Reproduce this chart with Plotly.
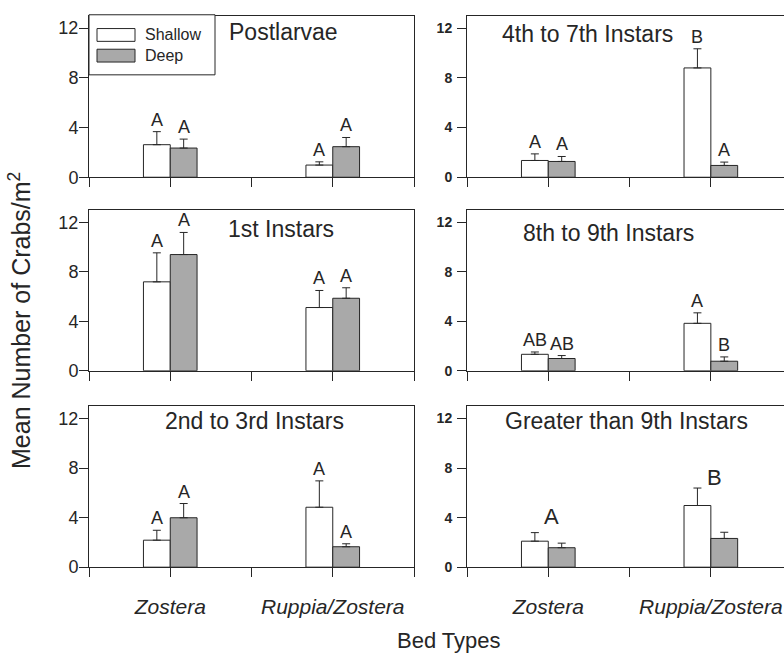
import plotly.graph_objects as go

# ---- data -------------------------------------------------------------
stages = ["Postlarvae", "1st Instars", "2nd to 3rd Instars",
          "4th to 7th Instars", "8th to 9th Instars", "Greater than 9th Instars"]
beds = ["Zostera", "Ruppia/Zostera"]

shallow_mean = [[2.62, 0.98], [7.20, 5.12], [2.18, 4.84],
                [1.35, 8.80], [1.33, 3.84], [2.10, 4.98]]
shallow_se = [[1.05, 0.26], [2.35, 1.38], [0.80, 2.13],
              [0.53, 1.54], [0.19, 0.85], [0.69, 1.41]]
deep_mean = [[2.35, 2.46], [9.41, 5.87], [3.99, 1.65],
             [1.27, 0.95], [0.99, 0.77], [1.57, 2.32]]
deep_se = [[0.72, 0.74], [1.79, 0.85], [1.15, 0.24],
           [0.40, 0.27], [0.24, 0.35], [0.37, 0.50]]

shallow_letters = [["A", "A"], ["A", "A"], ["A", "A"],
                   ["A", "B"], ["AB", "A"], ["", ""]]
deep_letters = [["A", "A"], ["A", "A"], ["A", "A"],
                ["A", "A"], ["AB", "B"], ["", ""]]
group_letters = [None, None, None, None, None, ["A", "B"]]

y_ticks = [0, 4, 8, 12]

# ---- layout helpers ---------------------------------------------------
W, H = 784, 653
FONT = "Liberation Sans, Arial, sans-serif"
INK = "#262626"
DEEP_FILL = "#a9a9a9"
BAR_W = 0.165


def fx(p):
    return p / W


def fy(p):
    return 1 - p / H


# panel grid (pixel boxes): columns left/right, rows top/middle/bottom
col_box = [(89, 414, [0.5, 2.5]), (467, 784, [0.5, 2.45])]
row_box = [(16, 180), (213.5, 376.5), (412.5, 576)]
panel_pos = [(0, 0), (1, 0), (2, 0), (0, 1), (1, 1), (2, 1)]
title_xy = [(283, 33), (281, 233), (254, 428), (587, 35), (608, 237), (626, 428)]

x_pos = [i + 1 for i in range(len(beds))]

fig = go.Figure()
annotations = []
layout_axes = {}

for k, stage in enumerate(stages):
    r, c = panel_pos[k]
    x0, x1, xr = col_box[c]
    yt, yb = row_box[r]
    n = k + 1
    xa, ya = f"x{n}", f"y{n}"
    xk = "xaxis" if n == 1 else f"xaxis{n}"
    yk = "yaxis" if n == 1 else f"yaxis{n}"

    fig.add_trace(go.Bar(
        x=x_pos, y=shallow_mean[k], width=BAR_W, offset=-BAR_W,
        marker=dict(color="white", line=dict(color=INK, width=1)),
        error_y=dict(type="data", symmetric=False, array=shallow_se[k],
                     arrayminus=[0] * len(beds), color=INK, thickness=1, width=4),
        xaxis=xa, yaxis=ya, showlegend=False, name="Shallow"))
    fig.add_trace(go.Bar(
        x=x_pos, y=deep_mean[k], width=BAR_W, offset=0,
        marker=dict(color=DEEP_FILL, line=dict(color=INK, width=1)),
        error_y=dict(type="data", symmetric=False, array=deep_se[k],
                     arrayminus=[0] * len(beds), color=INK, thickness=1, width=4),
        xaxis=xa, yaxis=ya, showlegend=False, name="Deep"))

    bottom_row = r == 2
    layout_axes[xk] = dict(
        domain=[fx(x0), fx(x1)], range=xr, anchor=ya,
        tickvals=x_pos, ticktext=beds,
        showticklabels=bottom_row, ticklabelstandoff=12,
        tickfont=dict(family=FONT, size=21, color=INK, style="italic"),
        ticks="outside", ticklen=9, tickcolor=INK, tickwidth=1,
        minor=dict(ticks="outside", ticklen=9, tickcolor=INK, tickwidth=1,
                   tick0=0.5, dtick=0.5, showgrid=False),
        showline=True, linecolor=INK, linewidth=1, mirror=True,
        showgrid=False, zeroline=False, fixedrange=True)
    layout_axes[yk] = dict(
        domain=[fy(yb), fy(yt)], range=[0, 13], anchor=xa,
        tickvals=y_ticks, ticks="outside", ticklen=9, tickcolor=INK, tickwidth=1,
        ticklabelstandoff=(-3 if c == 0 else 2),
        tickfont=(dict(family=FONT, size=18, color=INK) if c == 0
                  else dict(family=FONT, size=14, color=INK, weight="bold")),
        showline=True, linecolor=INK, linewidth=1, mirror=(c == 0),
        showgrid=False, zeroline=False, fixedrange=True)

    # panel title
    tx, ty = title_xy[k]
    annotations.append(dict(
        x=fx(tx), y=fy(ty), xref="paper", yref="paper", text=stage,
        showarrow=False, xanchor="center", yanchor="middle",
        font=dict(family=FONT, size=23, color=INK)))

    # significance letters above each bar
    for j, xp in enumerate(x_pos):
        for letters, mean, se, dx in ((shallow_letters, shallow_mean, shallow_se, -BAR_W / 2),
                                      (deep_letters, deep_mean, deep_se, BAR_W / 2)):
            t = letters[k][j]
            if t:
                annotations.append(dict(
                    x=xp + dx, y=mean[k][j] + se[k][j], xref=xa, yref=ya,
                    text=t, showarrow=False, xanchor="center", yanchor="bottom",
                    yshift=0, font=dict(family=FONT, size=18, color=INK)))
        if group_letters[k]:
            top = max(shallow_mean[k][j] + shallow_se[k][j], deep_mean[k][j] + deep_se[k][j])
            annotations.append(dict(
                x=xp, y=top, xref=xa, yref=ya, text=group_letters[k][j],
                showarrow=False, xanchor="center", yanchor="bottom",
                xshift=4 if j else 3, yshift=-4 if j else 2,
                font=dict(family=FONT, size=22, color=INK)))

# axis titles
annotations.append(dict(
    x=fx(20), y=fy(326), xref="paper", yref="paper",
    text="Mean Number of Crabs/m<sup>2</sup>", textangle=-90, showarrow=False,
    xanchor="center", yanchor="middle", font=dict(family=FONT, size=25, color=INK)))
annotations.append(dict(
    x=fx(449), y=fy(650), xref="paper", yref="paper", text="Bed Types",
    showarrow=False, xanchor="center", yanchor="middle",
    font=dict(family=FONT, size=22, color=INK)))

# legend (drawn in the first panel's upper-left corner)
shapes = [
    dict(type="rect", xref="paper", yref="paper", x0=fx(89), x1=fx(215), y0=fy(76), y1=fy(15),
         line=dict(color=INK, width=1), fillcolor="white", layer="above"),
    dict(type="rect", xref="paper", yref="paper", x0=fx(97), x1=fx(135), y0=fy(42), y1=fy(29),
         line=dict(color=INK, width=1), fillcolor="white", layer="above"),
    dict(type="rect", xref="paper", yref="paper", x0=fx(97), x1=fx(135), y0=fy(63), y1=fy(50),
         line=dict(color=INK, width=1), fillcolor=DEEP_FILL, layer="above"),
]
for label, yc in (("Shallow", 35.5), ("Deep", 56.5)):
    annotations.append(dict(
        x=fx(143), y=fy(yc), xref="paper", yref="paper", text=label,
        showarrow=False, xanchor="left", yanchor="middle",
        font=dict(family=FONT, size=16, color=INK)))

fig.update_layout(
    width=W, height=H, margin=dict(l=0, r=0, t=0, b=0),
    paper_bgcolor="white", plot_bgcolor="white",
    barmode="overlay", showlegend=False,
    annotations=annotations, shapes=shapes,
    **layout_axes)

fig.write_html("out.html", config={"displayModeBar": False})
